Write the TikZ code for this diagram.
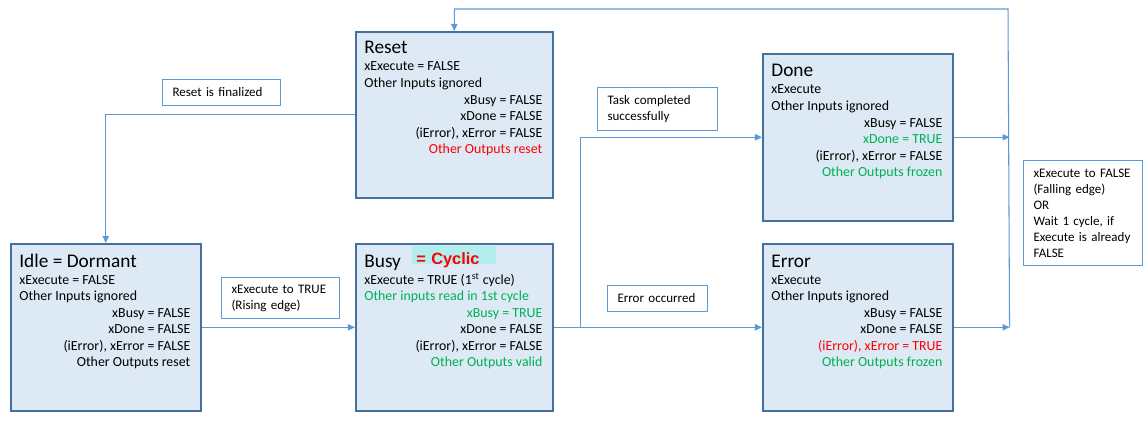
\documentclass[tikz,border=0pt]{standalone}
\usepackage{fontspec}
\setmainfont{Carlito}
\newfontfamily\tagfont{Liberation Sans}
\usetikzlibrary{arrows.meta,calc,shadows}
\definecolor{statefill}{RGB}{221,234,246}
\definecolor{stateedge}{RGB}{65,113,156}
\definecolor{linkblue}{RGB}{91,155,213}
\definecolor{okgreen}{RGB}{0,176,80}
\definecolor{cyclicbg}{RGB}{178,238,238}
\newcommand{\stlines}[2]{\begin{tabular}[t]{@{}p{#1}@{}}#2\end{tabular}}

\begin{document}
\begin{tikzpicture}[x=0.02cm, y=-0.02cm, every node/.style={font=\fontsize{7.9}{9.4}\selectfont}]
  \tikzstyle{statebox}=[draw=stateedge,fill=statefill,line width=0.9pt,anchor=north west,inner sep=0pt,minimum height=3.34cm,drop shadow={shadow xshift=0.7pt,shadow yshift=-0.7pt,fill=stateedge,opacity=0.7}]
  \tikzstyle{statetitle}=[anchor=base west,inner sep=0pt,font=\fontsize{11}{13}\selectfont]
  \tikzstyle{statelines}=[anchor=base west,inner sep=0pt]
  \tikzstyle{eventbox}=[draw=linkblue,fill=white,line width=0.6pt,anchor=north west,inner xsep=0.2cm,inner ysep=0pt,align=left,font=\fontsize{7.4}{9.1}\selectfont]
  \tikzstyle{flow}=[draw=linkblue,line width=0.6pt,-{Triangle[length=4pt,width=3.6pt]}]
  \useasboundingbox (0,0) rectangle (1148,422);

  % states
  \node[statebox,minimum width=3.8cm] (idle) at (10,243) {};
  \node[statebox,minimum width=3.94cm] (busy) at (355,243) {};
  \node[statebox,minimum width=3.94cm,minimum height=3.32cm] (reset) at (355,31) {};
  \node[statebox,minimum width=3.8cm] (done) at (762,53) {};
  \node[statebox,minimum width=3.8cm] (error) at (762,243) {};

  \node[statetitle] (idletitle) at ($(idle.north west)+(9,24)$) {Idle = Dormant};
  \node[statelines] (idlelines) at ($(idle.north west)+(9,41)$) {\stlines{3.42cm}{xExecute = FALSE\\ Other Inputs ignored\\ \hfill xBusy = FALSE\\ \hfill xDone = FALSE\\ \hfill (iError), xError = FALSE\\ \hfill Other Outputs reset}};

  \node[statetitle] (busytitle) at ($(busy.north west)+(9,24)$) {Busy};
  \node[anchor=base west,fill=cyclicbg,text=red,font=\tagfont\bfseries\fontsize{9.3}{11}\selectfont,inner xsep=0.08cm,inner ysep=0pt,text width=1.52cm,align=left,text height=0.36cm,text depth=0pt] (cyclic) at (412,264) {= Cyclic};
  \node[statelines] (busylines) at ($(busy.north west)+(9,41)$) {\stlines{3.56cm}{xExecute = TRUE (1\textsuperscript{st} cycle)\\ \textcolor{okgreen}{Other inputs read in 1st cycle}\\ \hfill\textcolor{okgreen}{xBusy = TRUE}\\ \hfill xDone = FALSE\\ \hfill (iError), xError = FALSE\\ \hfill\textcolor{okgreen}{Other Outputs valid}}};

  \node[statetitle] (resettitle) at ($(reset.north west)+(9,23)$) {Reset};
  \node[statelines] (resetlines) at ($(reset.north west)+(9,40)$) {\stlines{3.56cm}{xExecute = FALSE\\ Other Inputs ignored\\ \hfill xBusy = FALSE\\ \hfill xDone = FALSE\\ \hfill (iError), xError = FALSE\\ \hfill\textcolor{red}{Other Outputs reset}}};

  \node[statetitle] (donetitle) at ($(done.north west)+(9,24)$) {Done};
  \node[statelines] (donelines) at ($(done.north west)+(9,41)$) {\stlines{3.42cm}{xExecute\\ Other Inputs ignored\\ \hfill xBusy = FALSE\\ \hfill\textcolor{okgreen}{xDone = TRUE}\\ \hfill (iError), xError = FALSE\\ \hfill\textcolor{okgreen}{Other Outputs frozen}}};

  \node[statetitle] (errortitle) at ($(error.north west)+(9,24)$) {Error};
  \node[statelines] (errorlines) at ($(error.north west)+(9,41)$) {\stlines{3.42cm}{xExecute\\ Other Inputs ignored\\ \hfill xBusy = FALSE\\ \hfill xDone = FALSE\\ \hfill\textcolor{red}{(iError), xError = TRUE}\\ \hfill\textcolor{okgreen}{Other Outputs frozen}}};

  % events
  \node[eventbox,minimum width=2.36cm,minimum height=0.52cm,text width=1.96cm] (resetdone) at (162,79) {Reset is finalized};
  \node[eventbox,minimum width=2.36cm,minimum height=0.82cm,text width=1.96cm] (rising) at (221,277) {xExecute to TRUE\\(Rising edge)};
  \node[eventbox,minimum width=2.4cm,minimum height=0.86cm,text width=2.0cm] (taskok) at (597,87) {Task completed\\successfully};
  \node[eventbox,minimum width=2.0cm,minimum height=0.52cm,text width=1.6cm] (erroroccurred) at (607,285) {Error occurred};
  \node[eventbox,minimum width=2.38cm,minimum height=2.1cm,text width=1.98cm] (falling) at (1023,160) {xExecute to FALSE\\(Falling edge)\\OR\\Wait 1 cycle, if\\Execute is already\\FALSE};

  % transitions
  \coordinate (split) at ($(busy.east)+(27,0)$);
  \coordinate (merge) at ($(error.east)+(56,0)$);
  \coordinate (topturn) at (1008,9);
  \draw[flow] (idle.east) -- (busy.west);
  \draw[flow] (busy.east) -- (error.west);
  \draw[flow] (split) |- (done.west);
  \draw[flow] (done.east) -- (done.east -| merge);
  \draw[flow] (error.east) -- (merge);
  \draw[flow] (merge) -- (topturn) -| (reset.north);
  \draw[flow] (reset.west) -| (idle.north);
\end{tikzpicture}
\end{document}
